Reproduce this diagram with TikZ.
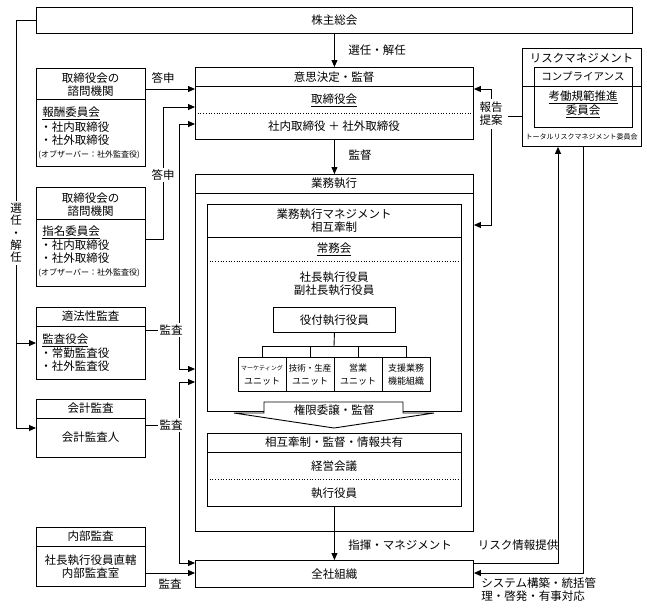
\documentclass[tikz,border=0pt]{standalone}
\usepackage{fontspec}
\setmainfont{Noto Sans CJK JP}
\usetikzlibrary{arrows.meta}
\begin{document}
\begin{tikzpicture}[x=1pt,y=-1pt,line width=0.9pt,
  bx/.style={draw,rectangle,anchor=north west,inner sep=0pt,line width=0.9pt},
  txt/.style={font=\fontsize{11.5}{13}\selectfont,inner sep=0pt,align=center},
  tleft/.style={txt,anchor=west},
  tsmall/.style={font=\fontsize{8}{9}\selectfont,inner sep=0pt,anchor=west},
  wl/.style={txt,fill=white,inner sep=2pt},
  arr/.style={-{Triangle[length=7pt,width=6pt]}},
  dotline/.style={dotted,line width=0.7pt},
]
\useasboundingbox (0,0) rectangle (647,611);

% ---------- top ----------
\node[bx,minimum width=596,minimum height=26] (agm) at (36,7) {};
\node[txt] at (agm.center) {株主総会};

% ---------- board ----------
\node[bx,minimum width=278,minimum height=72] (bod) at (195,67) {};
\draw (195,86) -- (473,86);
\draw[dotline] (195,113) -- (473,113);
\node[txt] at (334,77) {意思決定・監督};
\node[txt] at (334,100) {\underline{取締役会}};
\node[txt] at (334,126) {社内取締役 ＋ 社外取締役};

% ---------- execution ----------
\node[bx,minimum width=278,minimum height=357] (exe) at (195,174) {};
\draw (195,193) -- (473,193);
\node[txt] at (334,183) {業務執行};

\node[bx,minimum width=254,minimum height=207] (mg) at (207,204) {};
\draw (207,237) -- (461,237);
\draw[dotline] (207,261) -- (461,261);
\node[txt] at (334,221) {業務執行マネジメント\\相互牽制};
\node[txt] at (334,249) {\underline{常務会}};
\node[txt] at (334,284) {社長執行役員\\副社長執行役員};

\node[bx,minimum width=122,minimum height=25] (yaku) at (273,307) {};
\node[txt] at (yaku.center) {役付執行役員};

\node[bx,minimum width=48,minimum height=34] (u1) at (238,357) {};
\node[bx,minimum width=48,minimum height=34] (u2) at (286,357) {};
\node[bx,minimum width=48,minimum height=34] (u3) at (334,357) {};
\node[bx,minimum width=48,minimum height=34] (u4) at (382,357) {};
\node[font=\fontsize{6}{7}\selectfont,inner sep=0pt] at (262,368) {マーケティング};
\node[font=\fontsize{9}{10}\selectfont,inner sep=0pt] at (262,381) {ユニット};
\node[font=\fontsize{8.5}{10}\selectfont,inner sep=0pt] at (310,368) {技術・生産};
\node[font=\fontsize{9}{10}\selectfont,inner sep=0pt] at (310,381) {ユニット};
\node[font=\fontsize{9}{10}\selectfont,inner sep=0pt] at (358,368) {営業};
\node[font=\fontsize{9}{10}\selectfont,inner sep=0pt] at (358,381) {ユニット};
\node[font=\fontsize{9}{10}\selectfont,inner sep=0pt] at (406,368) {支援業務};
\node[font=\fontsize{9}{10}\selectfont,inner sep=0pt] at (406,381) {機能組織};

\coordinate (bus) at (334,346);
\draw (yaku.south) -- (bus);
\draw (u1.north) -- (u1.north |- bus) -- (u4.north |- bus) -- (u4.north);
\draw (u2.north) -- (u2.north |- bus);
\draw (u3.north) -- (u3.north |- bus);

% block arrow
\draw[fill=white,line width=0.9pt] (264,402) -- (403,402) -- (403,413) -- (434,413)
  -- (334,428) -- (234,413) -- (264,413) -- cycle;
\node[txt] at (334,410) {権限委譲・監督};

\node[bx,minimum width=254,minimum height=73] (kb) at (207,433) {};
\draw (207,452) -- (461,452);
\draw[dotline] (207,479) -- (461,479);
\node[txt] at (334,442) {相互牽制・監督・情報共有};
\node[txt] at (334,466) {経営会議};
\node[txt] at (334,493) {執行役員};

% ---------- whole company ----------
\node[bx,minimum width=278,minimum height=27] (zensha) at (195,560) {};
\node[txt] at (zensha.center) {全社組織};

% ---------- risk management ----------
\node[bx,minimum width=119,minimum height=98] (risk) at (522,48) {};
\node[bx,minimum width=98,minimum height=60] (comp) at (534,67) {};
\draw (522,86) -- (641,86);
\node[txt] at (581.5,58) {リスクマネジメント};
\node[txt,font=\fontsize{10.5}{12}\selectfont] at (583,76) {コンプライアンス};
\node[txt,font=\fontsize{11.5}{14}\selectfont] at (583,104) {\underline{考働規範推進}\\\underline{委員会}};
\node[font=\fontsize{7}{8}\selectfont,inner sep=0pt] at (581.5,137) {トータルリスクマネジメント委員会};

% ---------- left boxes ----------
\node[bx,minimum width=109,minimum height=98] (hou) at (36,68) {};
\draw (36,99) -- (145,99);
\node[txt] at (90.5,85) {取締役会の\\諮問機関};
\node[tleft] at (42,113) {\underline{報酬委員会}};
\node[tleft] at (40,127) {・社内取締役};
\node[tleft] at (40,140) {・社外取締役};
\node[tsmall] at (38,155) {(オブザーバー：社外監査役)};

\node[bx,minimum width=109,minimum height=99] (shimei) at (36,187) {};
\draw (36,219) -- (145,219);
\node[txt] at (90.5,204.5) {取締役会の\\諮問機関};
\node[tleft] at (42,232) {\underline{指名委員会}};
\node[tleft] at (40,245) {・社内取締役};
\node[tleft] at (40,258) {・社外取締役};
\node[tsmall] at (38,273) {(オブザーバー：社外監査役)};

\node[bx,minimum width=109,minimum height=72] (kansa) at (36,307) {};
\draw (36,326) -- (145,326);
\node[txt] at (90.5,316) {適法性監査};
\node[tleft] at (42,340) {\underline{監査役会}};
\node[tleft] at (40,353) {・常勤監査役};
\node[tleft] at (40,366) {・社外監査役};

\node[bx,minimum width=109,minimum height=58] (kaikei) at (36,399) {};
\draw (36,418) -- (145,418);
\node[txt] at (90.5,408) {会計監査};
\node[txt] at (90.5,437) {会計監査人};

\node[bx,minimum width=109,minimum height=59] (naibu) at (36,527) {};
\draw (36,546) -- (145,546);
\node[txt] at (90.5,536) {内部監査};
\node[txt] at (90.5,566.5) {社長執行役員直轄\\内部監査室};

% ---------- connectors ----------
\draw[arr] (agm.south) -- (bod.north);
\node[txt] at (377,50) {選任・解任};
\draw[arr] (bod.south) -- (exe.north);
\node[txt] at (360,155) {監督};
\draw[arr] (kb.south) -- (zensha.north);
\node[txt] at (400,545) {指揮・マネジメント};

% left election line
\draw[arr] (agm.west |- 0,20) -- (16,20) -- (16,428) -- (kaikei.west |- 0,428);
\draw[arr] (16,343) -- (kansa.west |- 0,343);
\node[txt,fill=white,inner sep=2pt,font=\fontsize{11.5}{12.3}\selectfont] at (16,233) {選\\任\\・\\解\\任};

% 答申
\draw[arr] (hou.east |- 0,89) -- (bod.west |- 0,89);
\node[txt] at (163,78) {答申};
\draw[arr] (shimei.east |- 0,239) -- (163,239) -- (163,107) -- (bod.west |- 0,107);
\node[wl] at (163,175) {答申};

% 監査 from 監査役会
\draw (kansa.east |- 0,330) -- (179,330);
\draw[arr] (179,330) -- (179,124) -- (bod.west |- 0,124);
\draw[arr] (179,330) -- (179,369) -- (exe.west |- 0,369);
\node[wl] at (171,330) {監査};

% 監査 from 会計監査
\draw (kaikei.east |- 0,425) -- (179,425);
\draw[arr] (179,425) -- (179,382) -- (exe.west |- 0,382);
\draw[arr] (179,425) -- (179,563) -- (zensha.west |- 0,563);
\node[wl] at (171,425) {監査};

% 内部監査
\draw[arr] (naibu.east |- 0,573) -- (zensha.west |- 0,573);
\node[txt] at (170,584) {監査};

% 報告・提案
\draw (risk.west |- 0,116) -- (491,116);
\draw[arr] (491,116) -- (491,89) -- (bod.east |- 0,89);
\draw[arr] (491,116) -- (491,225) -- (exe.east |- 0,225);
\node[txt,fill=white,inner xsep=5pt,inner ysep=3pt] at (491,114) {報告\\提案};

% risk <-> whole company
\draw[arr] (zensha.east |- 0,563) -| (risk.south -| 558,0);
\draw[arr] (risk.south -| 583,0) |- (zensha.east |- 0,573);
\node[txt] at (518,545) {リスク情報提供};
\node[txt,anchor=north west,align=left] at (481,577) {システム構築・統括管\\理・啓発・有事対応};

\end{tikzpicture}
\end{document}
